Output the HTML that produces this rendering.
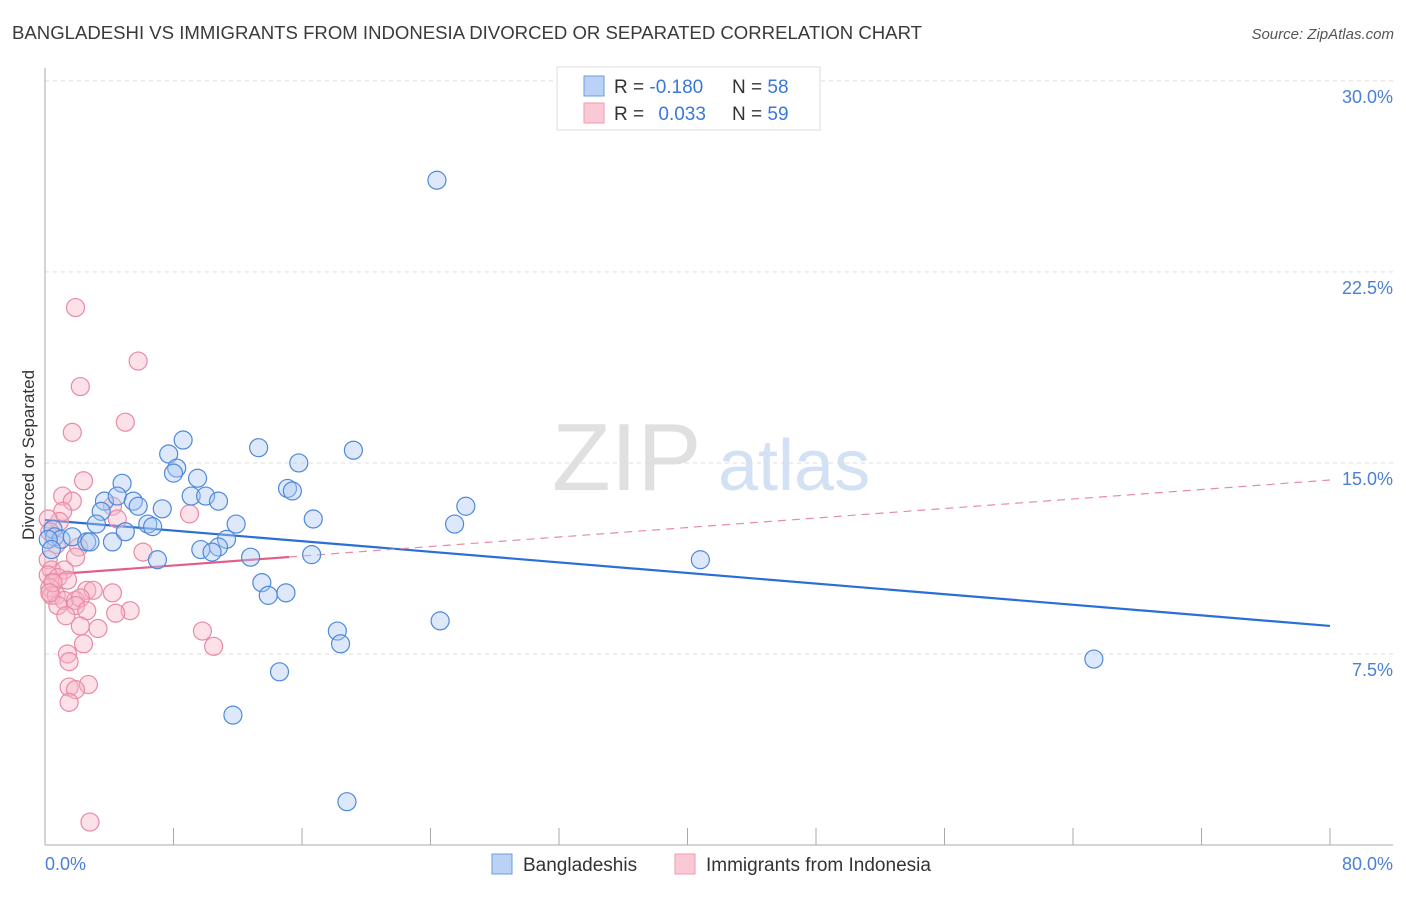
<!DOCTYPE html>
<html><head><meta charset="utf-8"><style>
body{margin:0;background:#fff;font-family:"Liberation Sans",sans-serif;}
svg text{font-family:"Liberation Sans",sans-serif;}
</style></head><body>
<svg id="chart" width="1406" height="892" xmlns="http://www.w3.org/2000/svg">
<text x="12" y="39" font-size="18" fill="#3a3a3a" textLength="910" lengthAdjust="spacingAndGlyphs">BANGLADESHI VS IMMIGRANTS FROM INDONESIA DIVORCED OR SEPARATED CORRELATION CHART</text>
<text x="1394" y="39" font-size="15" fill="#555" text-anchor="end" font-style="italic">Source: ZipAtlas.com</text>
<g>
<text x="552" y="490" font-size="96" fill="#e0e0e0" font-family="Liberation Serif,serif">ZIP</text>
<text x="718" y="490" font-size="72" fill="#d3e1f4">atlas</text>
</g>
<g id="grid"></g>
<g id="axes"></g>
<g id="trends"></g>
<g id="pts"></g>
<text transform="translate(34,455) rotate(-90)" font-size="17" fill="#333" text-anchor="middle">Divorced or Separated</text>
<text x="45" y="870" font-size="18" fill="#4a7fd4">0.0%</text>
<text x="1393" y="870" font-size="18" fill="#4a7fd4" text-anchor="end">80.0%</text>
<g>
<rect x="557" y="67" width="263" height="63" fill="#fff" stroke="#ddd"/>
<rect x="584" y="76" width="20" height="20" fill="#b9d2f5" stroke="#6f9be0"/>
<rect x="584" y="103" width="20" height="20" fill="#fbc9d6" stroke="#ee9ab0"/>
<text x="614" y="93" font-size="19" fill="#333">R = <tspan fill="#3a78d8">-0.180</tspan></text>
<text x="732" y="93" font-size="19" fill="#333">N = <tspan fill="#3a78d8">58</tspan></text>
<text x="614" y="120" font-size="19" fill="#333">R = <tspan fill="#3a78d8" dx="9">0.033</tspan></text>
<text x="732" y="120" font-size="19" fill="#333">N = <tspan fill="#3a78d8">59</tspan></text>
</g>
<g>
<rect x="492" y="854" width="20" height="20" fill="#b9d2f5" stroke="#6f9be0"/>
<text x="523" y="871" font-size="19" fill="#333">Bangladeshis</text>
<rect x="675" y="854" width="20" height="20" fill="#fbc9d6" stroke="#ee9ab0"/>
<text x="706" y="871" font-size="19" fill="#333">Immigrants from Indonesia</text>
</g>
</svg>
<script>
const yTicks=[7.5,15.0,22.5,30.0];
const xTicks=[0,8,16,24,32,40,48,56,64,72,80];
const blueX=[24.4,8.6,7.7,8.2,8.0,9.5,13.3,15.8,19.2,4.8,3.7,4.5,5.5,5.8,3.5,9.1,10.0,10.8,15.1,15.4,7.3,26.2,3.2,6.4,6.7,11.9,16.7,25.5,0.5,0.6,1.0,1.7,2.6,2.8,4.2,5.0,11.3,10.8,9.7,10.4,12.8,16.6,7.0,40.8,13.5,13.9,15.0,18.2,18.4,24.6,65.3,14.6,11.7,18.8,0.2,0.4];
const blueY=[26.1,15.9,15.35,14.8,14.6,14.4,15.6,15.0,15.5,14.2,13.5,13.7,13.5,13.3,13.1,13.7,13.7,13.5,14.0,13.9,13.2,13.3,12.6,12.6,12.5,12.6,12.8,12.6,12.4,12.1,12.0,12.1,11.9,11.9,11.9,12.3,12.0,11.7,11.6,11.5,11.3,11.4,11.2,11.2,10.3,9.8,9.9,8.4,7.9,8.8,7.3,6.8,5.1,1.7,12.0,11.6];
const pinkX=[1.9,5.8,2.2,5.0,1.7,2.4,1.1,1.7,1.1,4.2,4.5,0.9,9.0,0.2,0.3,0.7,2.1,6.1,1.9,0.2,0.4,1.2,0.2,0.8,1.4,0.3,2.6,3.0,4.2,0.4,0.7,1.2,1.9,2.2,0.8,1.9,2.6,5.3,4.4,1.3,2.2,3.3,9.8,2.4,10.5,1.4,1.5,1.5,2.7,1.9,1.5,2.8,0.5,0.3];
const pinkY=[21.1,19.0,18.0,16.6,16.2,14.3,13.7,13.5,13.1,13.3,12.8,12.7,13.0,12.8,12.3,11.8,11.7,11.5,11.3,11.2,10.8,10.8,10.6,10.5,10.4,10.1,10.0,10.0,9.9,9.8,9.8,9.6,9.6,9.7,9.4,9.4,9.2,9.2,9.1,9.0,8.6,8.5,8.4,7.9,7.8,7.5,7.2,6.2,6.3,6.1,5.6,0.9,10.3,9.9];
const blueTrend=[12.76,8.6];
const pinkTrend=[10.6,14.33];
const pinkSolidEnd=15.2;
const NS='http://www.w3.org/2000/svg';
const X=v=>45+v/80*1285;
const Y=v=>845-v*25.47;
function mk(tag,attrs,parent){const e=document.createElementNS(NS,tag);for(const k in attrs)e.setAttribute(k,attrs[k]);document.getElementById(parent).appendChild(e);return e;}
yTicks.forEach(t=>{
 const l=mk('line',{x1:45,x2:1393,y1:Y(t),y2:Y(t),stroke:'#ddd','stroke-dasharray':'4,4'},'grid');
 
 
 const tx=mk('text',{x:1393,y:Y(t)+22,'font-size':18,fill:'#4a7fd4','text-anchor':'end'},'grid');
 tx.textContent=t.toFixed(1)+'%';
 
 
});
let a=mk('line',{x1:45,x2:45,y1:68,y2:845,stroke:'#aaa'},'axes');


a=mk('line',{x1:45,x2:1393,y1:845,y2:845,stroke:'#aaa'},'axes');


xTicks.forEach(t=>{
 const l=mk('line',{x1:X(t),x2:X(t),y1:828,y2:845,stroke:'#aaa'},'axes');
 
 
});
function pts(xs,ys,fill,stroke,name){
 xs.forEach((x,i)=>{
  const c=mk('circle',{cx:X(x),cy:Y(ys[i]),r:9,fill:fill,'fill-opacity':0.4,stroke:stroke,'stroke-width':1.2},'pts');
  
  
 });
}
pts(pinkX,pinkY,'#f7b4c6','#e98aa5','indonesia-point');
pts(blueX,blueY,'#a9c8f2','#4f88db','bangladeshi-point');
let t=mk('line',{x1:X(0),y1:Y(blueTrend[0]),x2:X(80),y2:Y(blueTrend[1]),stroke:'#2a6fd6','stroke-width':2.2},'trends');


const pAt=v=>pinkTrend[0]+(pinkTrend[1]-pinkTrend[0])*v/80;
t=mk('line',{x1:X(pinkSolidEnd),y1:Y(pAt(pinkSolidEnd)),x2:X(80),y2:Y(pinkTrend[1]),stroke:'#e88aa8','stroke-width':1.2,'stroke-dasharray':'8,6'},'trends');


t=mk('line',{x1:X(0),y1:Y(pinkTrend[0]),x2:X(pinkSolidEnd),y2:Y(pAt(pinkSolidEnd)),stroke:'#e0608a','stroke-width':2.2},'trends');


</script>
</body></html>
